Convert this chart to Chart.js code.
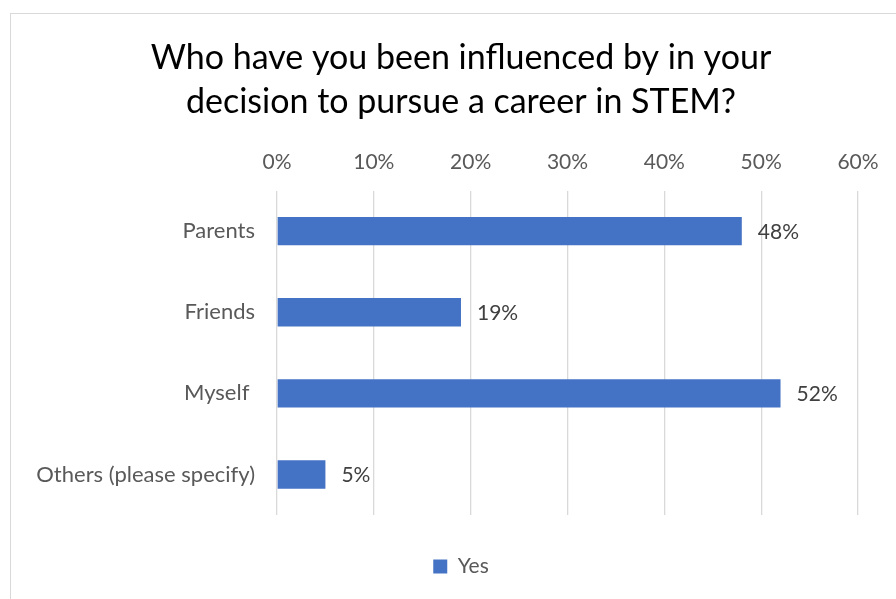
<!DOCTYPE html>
<html>
<head>
<meta charset="utf-8">
<script src="https://cdn.jsdelivr.net/npm/chart.js@4"></script>
<style>
    html, body { margin: 0; padding: 0; background: #fff; overflow: hidden; }
    #chartBox {
        position: absolute;
        left: 10px;
        top: 13px;
        width: 900px;
        height: 600px;
        border: 1px solid #d9d9d9;
        background: #fff;
    }
</style>
</head>
<body>
<div id="chartBox">
    <canvas id="influenceChart" width="900" height="600"></canvas>
</div>
<script>
const categories = ['Parents', 'Friends', 'Myself ', 'Others (please specify)'];
const yesValues = [48, 19, 52, 5];
const tickValues = [0, 10, 20, 30, 40, 50, 60];
const seriesName = 'Yes';
const titleLines = ['Who have you been influenced by in your', 'decision to pursue a career in STEM?'];

const FONT = 'Lato, "Open Sans", sans-serif';

// ghi nhãn phần trăm ở cuối mỗi thanh
const barValueLabels = {
    id: 'barValueLabels',
    afterDatasetsDraw(chart) {
        const c = chart.ctx;
        const meta = chart.getDatasetMeta(0);
        c.save();
        c.font = '21px ' + FONT;
        c.fillStyle = '#404040';
        c.textAlign = 'left';
        c.textBaseline = 'middle';
        meta.data.forEach((bar, i) => {
            c.fillText(yesValues[i] + '%', bar.x + 16, bar.y + 1);
        });
        c.restore();
    }
};

document.addEventListener('DOMContentLoaded', function() {
    const ctx = document.getElementById('influenceChart').getContext('2d');
    new Chart(ctx, {
        type: 'bar',
        data: {
            labels: categories,
            datasets: [{
                label: seriesName,
                data: yesValues,
                backgroundColor: '#4472C4',
                borderWidth: 0,
                barPercentage: 1,
                categoryPercentage: 0.35
            }]
        },
        options: {
            indexAxis: 'y',
            responsive: false,
            animation: false,
            layout: {
                padding: { left: 10, right: 10, top: 0, bottom: 27 }
            },
            scales: {
                x: {
                    position: 'top',
                    min: tickValues[0],
                    max: tickValues[tickValues.length - 1],
                    afterBuildTicks: axis => {
                        axis.ticks = tickValues.map(v => ({ value: v }));
                    },
                    ticks: {
                        callback: v => v + '%',
                        color: '#595959',
                        font: { family: FONT, size: 21 },
                        padding: 16
                    },
                    grid: {
                        color: '#d9d9d9',
                        lineWidth: 1.3,
                        drawTicks: false
                    },
                    border: { display: false }
                },
                y: {
                    ticks: {
                        color: '#595959',
                        font: { family: FONT, size: 22 },
                        padding: 22
                    },
                    grid: { display: false, drawTicks: false },
                    border: { display: false },
                    afterFit: scale => { scale.width = 256; }
                },
                // khoảng trống bên phải cho nhãn giá trị
                yRight: {
                    position: 'right',
                    display: true,
                    ticks: { display: false },
                    grid: { display: false, drawTicks: false },
                    border: { display: false },
                    afterFit: scale => { scale.width = 43; }
                }
            },
            plugins: {
                title: {
                    display: true,
                    text: titleLines,
                    color: '#000',
                    font: { family: FONT, size: 34, weight: 'normal', lineHeight: 1.3 },
                    padding: { top: 22, bottom: 9 }
                },
                legend: {
                    position: 'bottom',
                    labels: {
                        boxWidth: 14,
                        boxHeight: 14,
                        color: '#595959',
                        font: { family: FONT, size: 21 },
                        padding: 41
                    }
                },
                tooltip: { enabled: false }
            }
        },
        plugins: [barValueLabels]
    });
});
</script>
</body>
</html>
